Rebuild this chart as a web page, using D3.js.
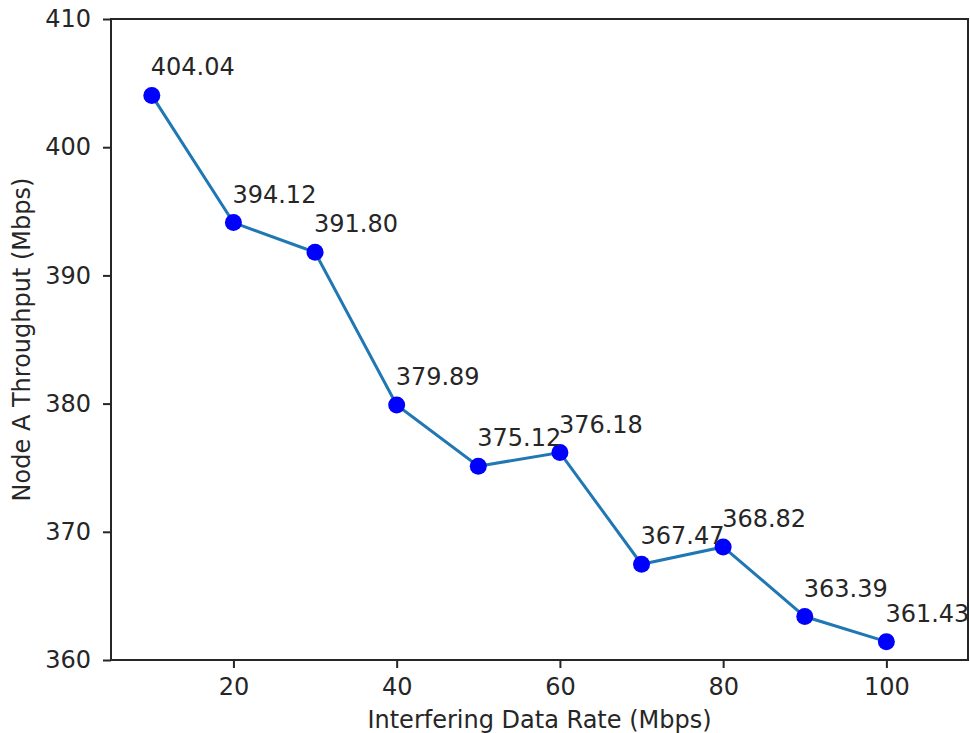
<!DOCTYPE html>
<html>
<head>
<meta charset="utf-8">
<script src="https://cdn.jsdelivr.net/npm/d3@7"></script>
<style>
  body { margin: 0; background: #fff; }
  text { font-family: "DejaVu Sans", sans-serif; fill: #262626; }
</style>
</head>
<body>
<div class="chart"></div>
<script>
// data
var rates = [10, 20, 30, 40, 50, 60, 70, 80, 90, 100];
var throughput = [404.04, 394.12, 391.80, 379.89, 375.12, 376.18, 367.47, 368.82, 363.39, 361.43];
var xTicks = [20, 40, 60, 80, 100];
var yTicks = [360, 370, 380, 390, 400, 410];

var W = 970, H = 733;
var margin = {top: 19, right: 2, bottom: 73, left: 111},
    width = W - margin.left - margin.right,
    height = H - margin.top - margin.bottom;

var svg = d3.select(".chart")
  .append("svg")
  .attr("width", W)
  .attr("height", H)
  .append("g")
  .attr("transform", "translate(" + margin.left + "," + margin.top + ")");

var x = d3.scaleLinear().domain([5, 110]).range([0, width]);
var y = d3.scaleLinear().domain([360, 410]).range([height, 0]);

// axes
var xAxis = svg.append("g")
  .attr("transform", "translate(0," + height + ")")
  .call(d3.axisBottom(x).tickValues(xTicks).tickSize(8).tickPadding(10));
var yAxis = svg.append("g")
  .call(d3.axisLeft(y).tickValues(yTicks).tickSize(8).tickPadding(12));

[xAxis, yAxis].forEach(function(a) {
  a.select(".domain").remove();
  a.selectAll("line").attr("stroke", "#262626").attr("stroke-width", 2);
  a.selectAll("text").attr("font-size", "24px").style("font-family", "DejaVu Sans, sans-serif").attr("fill", "#262626");
});

// frame
svg.append("rect")
  .attr("width", width).attr("height", height)
  .attr("fill", "none").attr("stroke", "#262626").attr("stroke-width", 2);

// line
var pts = rates.map(function(r, i) { return {x: r, y: throughput[i]}; });
svg.append("path")
  .datum(pts)
  .attr("fill", "none")
  .attr("stroke", "#1f77b4")
  .attr("stroke-width", 3)
  .attr("d", d3.line().x(function(d) { return x(d.x); }).y(function(d) { return y(d.y); }));

svg.selectAll("circle.pt")
  .data(pts)
  .enter()
  .append("circle")
  .attr("class", "pt")
  .attr("cx", function(d) { return x(d.x); })
  .attr("cy", function(d) { return y(d.y); })
  .attr("r", 8.5)
  .attr("fill", "#0000ff");

// value labels
svg.selectAll("text.lbl")
  .data(pts)
  .enter()
  .append("text")
  .attr("class", "lbl")
  .attr("x", function(d) { return x(d.x) - 1; })
  .attr("y", function(d) { return y(d.y) - 20; })
  .attr("font-size", "24px")
  .text(function(d) { return d.y.toFixed(2); });

// axis titles
svg.append("text")
  .attr("text-anchor", "middle")
  .attr("x", width / 2)
  .attr("y", height + 68)
  .attr("font-size", "24px")
  .text("Interfering Data Rate (Mbps)");

svg.append("text")
  .attr("text-anchor", "middle")
  .attr("transform", "rotate(-90)")
  .attr("x", -height / 2)
  .attr("y", -81)
  .attr("font-size", "24px")
  .text("Node A Throughput (Mbps)");
</script>
</body>
</html>
